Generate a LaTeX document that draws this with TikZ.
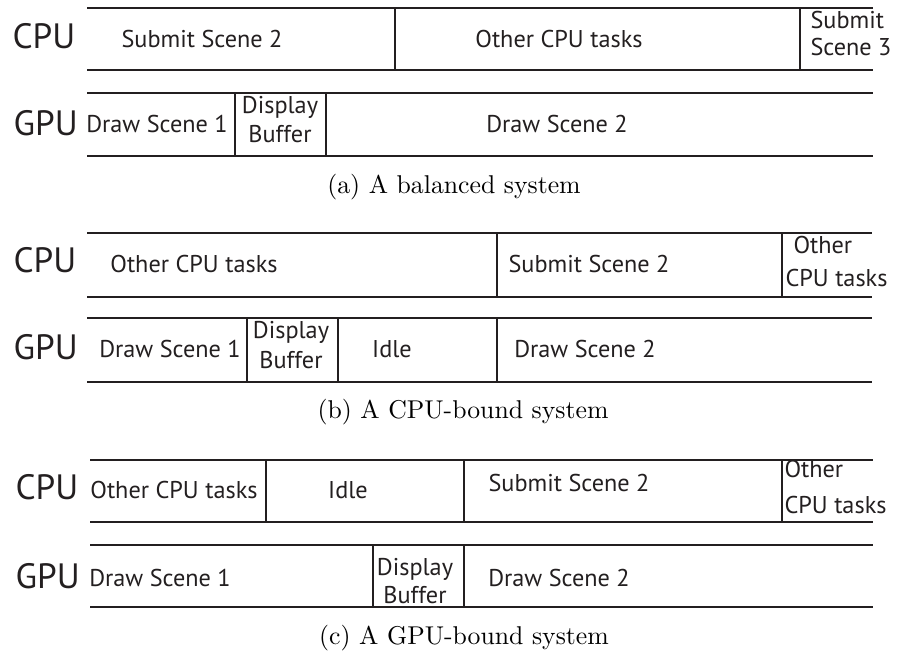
\documentclass[tikz,border=0pt]{standalone}
\usepackage{fontspec}
\newfontfamily\labfont{PT Sans}
\definecolor{ink}{HTML}{231F20}
\begin{document}
\begin{tikzpicture}[x=0.375pt,y=-0.375pt,
  rule/.style={line width=1pt, draw=ink},
  lbl/.style={font=\labfont\fontsize{9.1}{11.5}\selectfont, text=ink, inner sep=0pt, anchor=base},
  two/.style={font=\labfont\fontsize{9.1}{#1}\selectfont, text=ink, inner sep=0pt},
  unit/.style={font=\labfont\fontsize{13.2}{15}\selectfont, text=ink, inner sep=0pt, anchor=base west},
  capt/.style={font=\rmfamily\fontsize{9.65}{12}\selectfont, text=black, inner sep=0pt, anchor=base}]
\useasboundingbox (0,0) rectangle (898,654);

% ---------------- (a) balanced ----------------
\foreach \yy in {8,70,93,156} \draw[rule] (87,\yy) -- (873,\yy);
\draw[rule] (395,8) -- (395,70);
\draw[rule] (800,8) -- (800,70);
\draw[rule] (235,93) -- (235,156);
\draw[rule] (326,93) -- (326,156);
\node[unit] (acpu) at (12,49) {CPU};
\node[unit] (agpu) at (13,136) {GPU};
\node[lbl] (asub2) at (202,48) {Submit Scene 2};
\node[lbl] (aoth) at (559,48) {Other CPU tasks};
\node[two=10.1, anchor=north west, align=left] (asub3) at (810,11) {Submit\\Scene 3};
\node[lbl] (adr1) at (157,133) {Draw Scene 1};
\node[two=10.9, anchor=north, align=center] (adisp) at (280,96) {Display\\Buffer};
\node[lbl] (adr2) at (557,133) {Draw Scene 2};
\node[capt] (capa) at (454,194) {(a) A balanced system};

% ---------------- (b) CPU-bound ----------------
\foreach \yy in {233,297,318,382} \draw[rule] (87,\yy) -- (872,\yy);
\draw[rule] (497,233) -- (497,297);
\draw[rule] (782,233) -- (782,297);
\draw[rule] (247,318) -- (247,382);
\draw[rule] (338,318) -- (338,382);
\draw[rule] (497,318) -- (497,382);
\node[unit] (bcpu) at (13,273) {CPU};
\node[unit] (bgpu) at (13,360) {GPU};
\node[lbl] (both) at (194,273) {Other CPU tasks};
\node[lbl] (bsub2) at (589,273) {Submit Scene 2};
\node[two=12.4, anchor=north west, align=left] (both2) at (785,236) {\hspace*{3pt}Other\\CPU tasks};
\node[lbl] (bdr1) at (170,358) {Draw Scene 1};
\node[two=11.3, anchor=north, align=center] (bdisp) at (291,321) {Display\\Buffer};
\node[lbl] (bidle) at (392,358) {Idle};
\node[lbl] (bdr2) at (585,358) {Draw Scene 2};
\node[capt] (capb) at (463,419) {(b) A CPU-bound system};

% ---------------- (c) GPU-bound ----------------
\foreach \yy in {460,522,545,607} \draw[rule] (90,\yy) -- (873,\yy);
\draw[rule] (266,460) -- (266,522);
\draw[rule] (464,460) -- (464,522);
\draw[rule] (782,460) -- (782,522);
\draw[rule] (373,545) -- (373,607);
\draw[rule] (464,545) -- (464,607);
\node[unit] (ccpu) at (15,500) {CPU};
\node[unit] (cgpu) at (15,588) {GPU};
\node[lbl] (coth) at (174,499) {Other CPU tasks};
\node[lbl] (cidle) at (348,499) {Idle};
\node[lbl] (csub2) at (569,492) {Submit Scene 2};
\node[two=13.5, anchor=north west, align=left] (coth2) at (784,460) {Other\\CPU tasks};
\node[lbl] (cdr1) at (160,587) {Draw Scene 1};
\node[two=10.5, anchor=north, align=center] (cdisp) at (415,558) {Display\\Buffer};
\node[lbl] (cdr2) at (559,587) {Draw Scene 2};
\node[capt] (capc) at (464,644) {(c) A GPU-bound system};
\end{tikzpicture}
\end{document}
